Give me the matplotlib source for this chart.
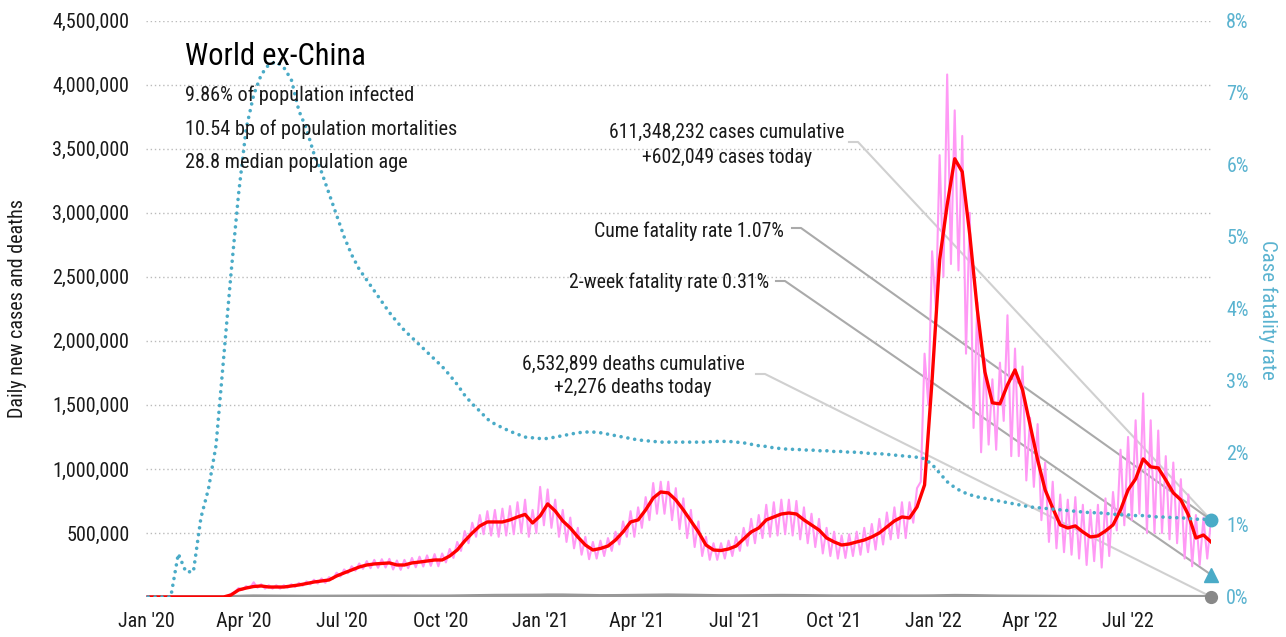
import os
import matplotlib
matplotlib.use('Agg')
import matplotlib.pyplot as plt
import matplotlib.dates as mdates
from matplotlib import font_manager as fm
from matplotlib.lines import Line2D
from matplotlib.ticker import FuncFormatter, FixedLocator
import numpy as np
import pandas as pd

# ---------------- font: prefer an installed condensed / narrow face ----------------
def find_condensed():
    bad = ('bold', 'italic', 'oblique', 'light', 'semi', 'extra', 'thin', 'medium',
           'black', 'heavy', 'ultra', 'demi', 'mono')
    prefs = ['liberationsansnarrow-regular', 'robotocondensed-regular',
             'notosans-condensed', 'opensans-condensed', 'dejavusanscondensed',
             'lato-condensed', 'inter-condensed']
    files = [f.fname for f in fm.fontManager.ttflist]
    extra = []
    for d in ['/usr/share/fonts', '/usr/local/share/fonts', os.path.expanduser('~/.fonts')]:
        if os.path.isdir(d):
            for root, _, fs in os.walk(d):
                for x in fs:
                    if x.lower().endswith(('.ttf', '.otf')):
                        extra.append(os.path.join(root, x))
    allf = list(dict.fromkeys(files + extra))
    for p in prefs:
        for f in allf:
            b = os.path.basename(f).lower()
            if b.startswith(p) and not any(w in b.replace(p, '') for w in bad):
                return f
    for f in allf:
        b = os.path.basename(f).lower()
        if ('condensed' in b or 'narrow' in b) and not any(w in b for w in bad):
            return f
    return None


cond = find_condensed()
if cond is not None:
    try:
        fm.fontManager.addfont(cond)
        entry = [f for f in fm.fontManager.ttflist if f.fname == cond][0]
        plt.rcParams['font.family'] = [entry.name, 'DejaVu Sans']
        plt.rcParams['font.stretch'] = entry.stretch
        SCALE = 1.0
    except Exception:
        cond = None
if cond is None:
    plt.rcParams['font.family'] = ['Liberation Sans', 'DejaVu Sans']
    SCALE = 0.9

# ---------------- data ----------------
start_date = '2020-01-01'
end_date = '2022-09-16'
n_weeks = 142

# 7-day average of daily new cases (thousands), weekly samples
cases_avg_k = [0, 0, 0, 0, 0, 0, 0, 0, 0, 0,
               0, 16, 55, 70, 82, 86, 78, 78, 78, 86,
               94, 105, 117, 125, 133, 164, 188, 211, 234, 250,
               258, 262, 266, 250, 250, 266, 273, 281, 289, 289,
               320, 367, 438, 500, 555, 586, 586, 586, 602, 625,
               645, 578, 633, 727, 672, 594, 539, 469, 406, 367,
               379, 398, 445, 508, 586, 602, 680, 773, 820, 813,
               758, 680, 594, 508, 406, 367, 363, 375, 398, 453,
               508, 539, 602, 625, 648, 656, 648, 602, 563, 523,
               461, 430, 406, 414, 430, 445, 469, 500, 547, 594,
               625, 617, 703, 875, 1695, 2633, 3063, 3422, 3320, 2828,
               2242, 1758, 1516, 1508, 1656, 1773, 1617, 1344, 1070, 836,
               695, 563, 539, 555, 508, 469, 477, 516, 563, 680,
               836, 922, 1078, 1016, 1008, 914, 813, 758, 641, 461,
               484, 430]

# daily new cases (thousands): weekly peak and weekly trough
cases_high_k = [0, 0, 0, 0, 0, 0, 0, 0, 0, 0,
                0, 25, 70, 85, 115, 100, 92, 92, 92, 100,
                110, 122, 135, 145, 155, 190, 215, 240, 262, 280,
                290, 295, 298, 285, 290, 305, 315, 325, 335, 340,
                375, 430, 515, 580, 640, 670, 680, 690, 710, 740,
                760, 680, 860, 840, 760, 680, 620, 540, 470, 430,
                440, 460, 510, 590, 670, 700, 780, 890, 900, 900,
                850, 770, 680, 590, 470, 420, 420, 440, 470, 540,
                610, 640, 720, 740, 760, 760, 750, 700, 650, 610,
                540, 510, 480, 490, 510, 540, 570, 610, 660, 700,
                740, 740, 850, 1900, 2700, 3450, 4080, 3800, 3600, 3000,
                2300, 1860, 1700, 1830, 2200, 1940, 1800, 1400, 1350, 1050,
                900, 800, 760, 780, 720, 680, 720, 770, 820, 1150,
                1250, 1380, 1590, 1380, 1300, 1100, 1050, 920, 800, 640,
                620, 602.049]
cases_low_k = [0, 0, 0, 0, 0, 0, 0, 0, 0, 0,
               0, 5, 40, 55, 70, 72, 65, 65, 65, 72,
               78, 88, 98, 105, 110, 140, 160, 185, 205, 220,
               225, 228, 230, 215, 212, 225, 232, 238, 243, 240,
               270, 305, 360, 420, 470, 490, 480, 470, 480, 490,
               500, 470, 500, 560, 540, 470, 430, 380, 330, 295,
               300, 320, 360, 410, 470, 470, 540, 600, 650, 650,
               600, 530, 460, 390, 320, 290, 290, 300, 320, 360,
               400, 420, 460, 470, 480, 490, 480, 450, 420, 390,
               340, 320, 300, 305, 320, 330, 350, 370, 410, 450,
               460, 460, 580, 900, 1500, 2250, 2500, 2600, 2550, 1900,
               1320, 1130, 1190, 1150, 1375, 1100, 1100, 910, 860, 600,
               430, 380, 350, 330, 300, 250, 280, 230, 320, 520,
               560, 600, 650, 500, 500, 500, 450, 420, 300, 240,
               250, 300]

# daily deaths (thousands), weekly samples
deaths_k = [0, 0, 0, 0, 0, 0, 0, 0, 0, 0,
            0.3, 1.2, 3.5, 5.5, 6.5, 6.3, 5.8, 5.3, 4.8, 4.4,
            4.2, 4.1, 4.3, 4.5, 4.7, 5.0, 5.1, 5.3, 5.6, 5.9,
            6.0, 6.0, 5.9, 5.6, 5.4, 5.4, 5.5, 5.5, 5.6, 5.7,
            6.0, 6.6, 7.4, 8.5, 9.4, 10.2, 10.8, 11.0, 11.2, 11.6,
            11.9, 11.5, 12.5, 13.8, 14.2, 13.8, 12.8, 11.6, 10.4, 9.4,
            8.9, 8.9, 9.3, 10.0, 11.0, 11.6, 12.5, 13.2, 13.8, 13.9,
            13.5, 12.8, 11.9, 10.8, 9.8, 9.0, 8.3, 7.9, 7.8, 8.0,
            8.5, 9.0, 9.6, 10.1, 10.4, 10.3, 10.0, 9.3, 8.5, 7.8,
            7.2, 6.9, 6.8, 6.9, 7.0, 7.1, 7.2, 7.2, 7.1, 7.0,
            6.6, 6.3, 6.4, 6.6, 7.2, 8.4, 9.6, 10.3, 10.2, 9.5,
            8.4, 7.3, 6.4, 5.8, 5.4, 5.0, 4.6, 4.0, 3.5, 3.0,
            2.6, 2.3, 2.1, 2.0, 1.9, 1.8, 1.7, 1.7, 1.8, 1.9,
            2.1, 2.3, 2.5, 2.6, 2.6, 2.6, 2.5, 2.5, 2.4, 2.3,
            2.3, 2.276]

# cumulative case fatality rate (%)
cfr_pct = [0, 0, 0, 0, 0.6, 0.35, 0.35, 1.1, 1.5, 2.1,
           3.3, 4.5, 5.6, 6.5, 6.97, 7.25, 7.39, 7.43, 7.35, 7.18,
           6.75, 6.5, 6.15, 5.9, 5.6, 5.3, 5.0, 4.75, 4.55, 4.4,
           4.25, 4.1, 3.95, 3.82, 3.7, 3.6, 3.5, 3.4, 3.3, 3.2,
           3.08, 2.95, 2.8, 2.68, 2.58, 2.47, 2.4, 2.35, 2.3, 2.26,
           2.22, 2.21, 2.2, 2.2, 2.22, 2.24, 2.26, 2.28, 2.29, 2.29,
           2.28, 2.26, 2.24, 2.22, 2.2, 2.18, 2.17, 2.16, 2.15, 2.15,
           2.15, 2.15, 2.15, 2.15, 2.15, 2.16, 2.16, 2.16, 2.15, 2.14,
           2.12, 2.1, 2.09, 2.07, 2.06, 2.05, 2.05, 2.04, 2.04, 2.03,
           2.03, 2.02, 2.02, 2.01, 2.01, 2.0, 1.99, 1.99, 1.98, 1.97,
           1.96, 1.95, 1.94, 1.92, 1.84, 1.72, 1.6, 1.52, 1.46, 1.42,
           1.39, 1.37, 1.35, 1.33, 1.31, 1.29, 1.27, 1.25, 1.24, 1.23,
           1.22, 1.21, 1.2, 1.19, 1.18, 1.17, 1.17, 1.16, 1.15, 1.14,
           1.14, 1.13, 1.13, 1.12, 1.11, 1.11, 1.1, 1.1, 1.09, 1.08,
           1.08, 1.07]

title = 'World ex-China'
subtitle_lines = ['9.86% of population infected',
                  '10.54 bp of population mortalities',
                  '28.8 median population age']
cases_cum = 611348232
cases_today = 602049
deaths_cum = 6532899
deaths_today = 2276
cume_cfr = 1.07
twoweek_cfr = 0.31

left_ticks = [500000, 1000000, 1500000, 2000000, 2500000, 3000000, 3500000, 4000000, 4500000]
right_ticks = [0, 1, 2, 3, 4, 5, 6, 7, 8]
x_ticks = pd.date_range('2020-01-01', '2022-07-01', freq='QS')

# ---------------- colours ----------------
BLUE = '#4aabc7'
BLUE_TXT = '#5ab3d0'
RED = '#ff0000'
PINK = '#ff99f5'
GREY = '#999999'
TXT = '#1a1a1a'

FS_TICK = 14.5 * SCALE
FS_SUB = 14.6 * SCALE
FS_ANN = 14.2 * SCALE
FS_TITLE = 22 * SCALE

W, H = 1286, 637
fig = plt.figure(figsize=(W / 100, H / 100), dpi=100)
ax = fig.add_axes([146 / W, 40 / H, 1065 / W, 576.3 / H])
ax2 = ax.twinx()

dates = pd.date_range(end=end_date, periods=n_weeks, freq='7D')
half = pd.Timedelta(hours=84)
pink_dates = np.empty(2 * n_weeks, dtype='datetime64[ns]')
pink_dates[0::2] = (dates - half).values
pink_dates[1::2] = dates.values
pink_vals = np.empty(2 * n_weeks)
pink_vals[0::2] = np.array(cases_low_k) * 1000
pink_vals[1::2] = np.array(cases_high_k) * 1000

ax.plot(dates, np.array(deaths_k) * 1000, color=GREY, lw=2.6, zorder=2)
ax.plot(pink_dates, pink_vals, color=PINK, lw=1.5, zorder=3)
ax.plot(dates, np.array(cases_avg_k) * 1000, color=RED, lw=2.4, zorder=4)

ax2.plot(dates, cfr_pct, color=BLUE, lw=2.6, linestyle=(0, (0.01, 1.9)),
         dash_capstyle='round', zorder=3)

end = pd.Timestamp(end_date)
ax.set_xlim(pd.Timestamp(start_date), end)
ax.set_ylim(0, 4.5e6)
ax2.set_ylim(0, 8)

for a in (ax, ax2):
    for s in a.spines.values():
        s.set_visible(False)
    a.tick_params(length=0)

ax.yaxis.set_major_locator(FixedLocator(left_ticks))
ax.yaxis.set_major_formatter(FuncFormatter(lambda v, p: f'{int(v):,}'))
ax.tick_params(axis='y', labelsize=FS_TICK, labelcolor=TXT, pad=12)
ax.grid(axis='y', color='#bbbbbb', lw=1.0, linestyle=(0, (1, 2)))
ax.set_axisbelow(True)

ax.set_xticks(x_ticks)
ax.set_xticklabels([d.strftime("%b '%y") for d in x_ticks])
ax.tick_params(axis='x', labelsize=FS_TICK, labelcolor=TXT, pad=11)

ax2.yaxis.set_major_locator(FixedLocator(right_ticks))
ax2.yaxis.set_major_formatter(FuncFormatter(lambda v, p: f'{int(v)}%'))
ax2.tick_params(axis='y', labelsize=FS_TICK, labelcolor=BLUE_TXT, pad=11)

ax.set_ylabel('Daily new cases and deaths', fontsize=FS_TICK, color=TXT)
ax.yaxis.set_label_coords(-(146 - 27) / 1065, (597 - 308) / 576.3)
ax2.set_ylabel('Case fatality rate', fontsize=15 * SCALE, color=BLUE_TXT,
               rotation=270, va='center')
ax2.yaxis.set_label_coords(1 + (1268 - 1211) / 1065, (597 - 310) / 576.3)

# end markers
ax2.plot([end], [cume_cfr], 'o', ms=9, color=BLUE, clip_on=False, zorder=6)
ax2.plot([end], [twoweek_cfr], '^', ms=10, color=BLUE, clip_on=False, zorder=6)
ax2.plot([end], [deaths_today / 4.5e6 * 8], 'o', ms=8.5, color='#888888',
         clip_on=False, zorder=6)


def fx(px):
    return px / W


def fy(py):
    return 1 - py / H


# title block
fig.text(fx(185), fy(65), title, fontsize=FS_TITLE, color='black', va='baseline')
for line, base in zip(subtitle_lines, [101, 135, 168]):
    fig.text(fx(185), fy(base), line, fontsize=FS_SUB, color=TXT, va='baseline')

# annotations
fig.text(fx(727), fy(138), f'{cases_cum:,} cases cumulative', fontsize=FS_ANN,
         color=TXT, ha='center', va='baseline')
fig.text(fx(727), fy(163), f'+{cases_today:,} cases today', fontsize=FS_ANN,
         color=TXT, ha='center', va='baseline')
fig.text(fx(784), fy(237), f'Cume fatality rate {cume_cfr:.2f}%', fontsize=FS_ANN,
         color=TXT, ha='right', va='baseline')
fig.text(fx(769), fy(288), f'2-week fatality rate {twoweek_cfr:.2f}%', fontsize=FS_ANN,
         color=TXT, ha='right', va='baseline')
fig.text(fx(633), fy(370), f'{deaths_cum:,} deaths cumulative', fontsize=FS_ANN,
         color=TXT, ha='center', va='baseline')
fig.text(fx(633), fy(393), f'+{deaths_today:,} deaths today', fontsize=FS_ANN,
         color=TXT, ha='center', va='baseline')

# leader lines: text anchor (pixels) -> data end point
to_fig = fig.transFigure.inverted()


def leader(px, py, axis, yval, color):
    tx, ty = to_fig.transform(axis.transData.transform((mdates.date2num(end), yval)))
    xs = [fx(px), fx(px + 9), tx]
    ys = [fy(py), fy(py), ty]
    ln = Line2D(xs, ys, transform=fig.transFigure, color=color, lw=1.5,
                zorder=1.5, clip_on=False)
    ax.add_line(ln)


leader(849, 142, ax, cases_today, '#d0d0d0')
leader(792, 228, ax2, cume_cfr, '#aaaaaa')
leader(776, 281, ax2, twoweek_cfr, '#aaaaaa')
leader(756, 374, ax, deaths_today, '#d0d0d0')

fig.savefig('out.png', dpi=100)
